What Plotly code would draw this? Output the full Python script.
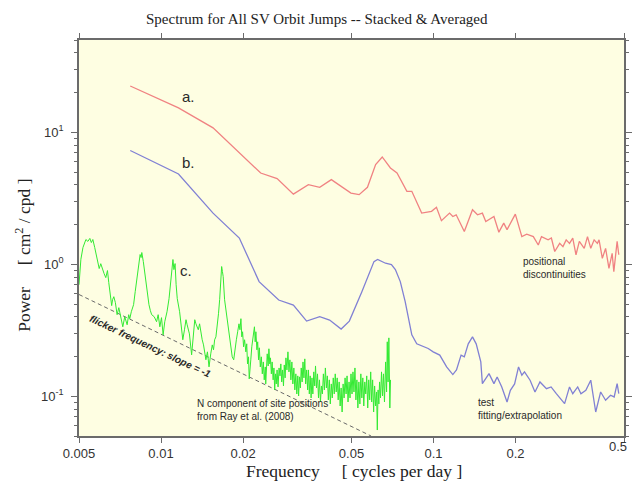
import math
import plotly.graph_objects as go

# ---------------- data ----------------
# a. positional discontinuities (red)
freq_a = [0.00771, 0.01159, 0.01552, 0.02321, 0.02667, 0.0306, 0.03473, 0.03823, 0.04217, 0.04977,
          0.05333, 0.05722, 0.06131, 0.06482, 0.06947, 0.07345, 0.07985, 0.08323, 0.09047, 0.09833,
          0.1025, 0.1069, 0.1145, 0.1177, 0.1211, 0.1297, 0.1390, 0.1450, 0.1511, 0.1555,
          0.1666, 0.1737, 0.1810, 0.1861, 0.1996, 0.2109, 0.2198, 0.2324, 0.2423, 0.2490,
          0.2633, 0.2707, 0.2785, 0.2904, 0.2985, 0.3068, 0.3155, 0.3243, 0.3333, 0.3428,
          0.3573, 0.3673, 0.3776, 0.3885, 0.3993, 0.4050, 0.4163, 0.4280, 0.4403, 0.4524,
          0.4588, 0.4718, 0.4785]
power_a = [22.4, 15.3, 10.8, 4.91, 4.46, 3.40, 4.01, 3.83, 4.38, 3.46,
           3.37, 3.83, 5.69, 6.50, 5.36, 4.91, 3.57, 3.57, 2.44, 2.52,
           2.70, 2.14, 2.44, 2.30, 2.37, 1.77, 2.59, 2.37, 2.44, 2.11,
           2.30, 1.75, 2.05, 1.83, 2.40, 1.62, 1.69, 1.62, 1.40, 1.62,
           1.53, 1.58, 1.25, 1.44, 1.36, 1.53, 1.44, 1.58, 1.18, 1.49,
           1.32, 1.62, 1.32, 1.53, 1.44, 1.53, 1.11, 1.32, 0.932, 1.21,
           0.880, 1.49, 1.18]

# b. test fitting/extrapolation (blue)
freq_b = [0.00771, 0.01159, 0.01552, 0.01938, 0.02290, 0.02704, 0.0306, 0.03422, 0.03823, 0.04156,
          0.04581, 0.04909, 0.05458, 0.06045, 0.06233, 0.06665, 0.07007, 0.07244, 0.07551, 0.07870,
          0.08323, 0.08678, 0.09559, 0.0997, 0.1054, 0.1117, 0.1177, 0.1214, 0.1262, 0.1297,
          0.1341, 0.1390, 0.1434, 0.1491, 0.1511, 0.1598, 0.1666, 0.1712, 0.1780, 0.1861,
          0.1914, 0.1984, 0.2051, 0.2109, 0.2157, 0.2261, 0.2357, 0.2458, 0.2597, 0.2700,
          0.2822, 0.3027, 0.3155, 0.3243, 0.3381, 0.3475, 0.3622, 0.3776, 0.3937, 0.4105,
          0.4280, 0.4462, 0.4601, 0.4718, 0.4785]
power_b = [7.27, 4.83, 2.44, 1.58, 0.739, 0.536, 0.491, 0.371, 0.4005, 0.378,
           0.323, 0.371, 0.620, 1.048, 1.086, 1.018, 0.995, 0.911, 0.739, 0.521,
           0.292, 0.2496, 0.230, 0.217, 0.205, 0.167, 0.146, 0.1585, 0.205, 0.199,
           0.2496, 0.282, 0.2496, 0.182, 0.1247, 0.1485, 0.1247, 0.140, 0.1177, 0.0905,
           0.111, 0.124, 0.167, 0.1444, 0.153, 0.1323, 0.1078, 0.1284, 0.1142, 0.1177,
           0.1046, 0.0879, 0.1177, 0.1046, 0.1177, 0.1046, 0.111, 0.1323, 0.076, 0.1078,
           0.0932, 0.1018, 0.0988, 0.1247, 0.1046]

# c. N component of site positions, Ray et al. (2008) (green)
freq_c = [0.00500, 0.00508, 0.00517, 0.00522, 0.00530, 0.00539, 0.00548, 0.00555, 0.00562, 0.00571,
          0.00578, 0.00585, 0.00593, 0.00601, 0.00609, 0.00618, 0.00627, 0.00636, 0.00643, 0.00652,
          0.00659, 0.00664, 0.00671, 0.00680, 0.00690, 0.00700, 0.00707, 0.00714, 0.00724, 0.00736,
          0.00743, 0.00751, 0.00761, 0.00768, 0.00778, 0.00793, 0.00804, 0.00816, 0.00826, 0.00838,
          0.00845, 0.00850, 0.00861, 0.00874, 0.00886, 0.00903, 0.00914, 0.00924, 0.00944, 0.00963,
          0.00976, 0.00990, 0.01004, 0.01018, 0.01032, 0.01052, 0.01070, 0.01085, 0.01096, 0.01106,
          0.01115, 0.01126, 0.01136, 0.01147, 0.01170, 0.01186, 0.01202, 0.01219, 0.01235, 0.01247,
          0.01271, 0.01295, 0.01317, 0.01330, 0.01343, 0.01370, 0.01385, 0.01401, 0.01416, 0.01432,
          0.01461, 0.01480, 0.01500, 0.01522, 0.01542, 0.01558, 0.01573, 0.01590, 0.01608, 0.01625,
          0.01641, 0.01655, 0.01669, 0.01680, 0.01691, 0.01711, 0.01725, 0.01740, 0.01758, 0.01773,
          0.01790, 0.01807, 0.01825, 0.01848, 0.01868, 0.01890, 0.01911, 0.01932,
          0.01948, 0.01964, 0.01979, 0.01992, 0.02009, 0.02026, 0.02048, 0.02063, 0.02077, 0.02094,
          0.02107, 0.02121, 0.02135, 0.02153, 0.02171, 0.02187, 0.02202, 0.02216, 0.02229, 0.02248,
          0.02263, 0.02280, 0.02295, 0.02314, 0.02334, 0.02353, 0.02373, 0.02392, 0.02413, 0.02422,
          0.02439, 0.02453, 0.02473, 0.02488, 0.02507, 0.02521, 0.02540, 0.02557, 0.02579, 0.02596,
          0.02613, 0.02631, 0.02648, 0.02666, 0.02688, 0.02711, 0.02733, 0.02752, 0.02772, 0.02793,
          0.02814, 0.02833, 0.02854, 0.02873, 0.02898, 0.02922, 0.02947, 0.02971, 0.02996, 0.03021,
          0.03046, 0.03072, 0.03098, 0.03124, 0.03150, 0.03176, 0.03198, 0.03222, 0.03246, 0.03270,
          0.03295, 0.03319, 0.03345, 0.03370, 0.03395, 0.03423, 0.03452, 0.03475, 0.03501, 0.03527,
          0.03554, 0.03580, 0.03607, 0.03635, 0.03665, 0.03689, 0.03720, 0.03751, 0.03783, 0.03814,
          0.03846, 0.03878, 0.03910, 0.03943, 0.03976, 0.04010, 0.04043, 0.04077, 0.04111, 0.04145,
          0.04180, 0.04215, 0.04250, 0.04286, 0.04322, 0.04358, 0.04394, 0.04431, 0.04468, 0.04505,
          0.04543, 0.04581, 0.04619, 0.04658, 0.04697, 0.04736, 0.04776, 0.04816, 0.04856, 0.04897,
          0.04938, 0.04979, 0.05021, 0.05063, 0.05105, 0.05148, 0.05190, 0.05233, 0.05277, 0.05321,
          0.05366, 0.05410, 0.05456, 0.05501, 0.05547, 0.05594, 0.05640, 0.05687, 0.05735, 0.05783,
          0.05831, 0.05880, 0.05929, 0.05978, 0.06028, 0.06079, 0.06130, 0.06181, 0.06218, 0.06259,
          0.06301, 0.06338, 0.06390, 0.06444, 0.06498, 0.06552, 0.06607, 0.06670, 0.06726, 0.06765,
          0.06810, 0.06856, 0.06913, 0.06953]
power_c = [0.70, 1.09, 1.34, 1.44, 1.54, 1.49, 1.57, 1.46, 1.54, 1.34,
           1.21, 1.09, 0.928, 1.01, 0.911, 0.850, 0.792, 0.896, 0.726, 0.599,
           0.486, 0.539, 0.568, 0.512, 0.415, 0.469, 0.430, 0.387, 0.336, 0.4005,
           0.367, 0.348, 0.415, 0.387, 0.437, 0.494, 0.620, 0.765, 0.928, 1.185,
           1.124, 1.227, 1.048, 0.806, 0.642, 0.494, 0.445, 0.415, 0.4005, 0.367,
           0.415, 0.336, 0.394, 0.292, 0.367, 0.437, 0.549, 0.713, 0.880, 1.086,
           0.911, 1.012, 0.701, 0.549, 0.437, 0.348, 0.268, 0.319, 0.380, 0.348,
           0.297, 0.206, 0.336, 0.380, 0.354, 0.319, 0.354, 0.297, 0.268, 0.245,
           0.189, 0.217, 0.167, 0.2096, 0.245, 0.2248, 0.268, 0.282, 0.336, 0.422,
           0.539, 0.739, 0.961, 0.880, 0.806, 0.539, 0.477, 0.4005, 0.354, 0.297,
           0.2586, 0.2248, 0.199, 0.189, 0.237, 0.268, 0.308, 0.354,
           0.319, 0.387, 0.282, 0.308, 0.237, 0.268, 0.217, 0.2497, 0.1758, 0.1989,
           0.1354, 0.1758, 0.1887, 0.237, 0.277, 0.319, 0.336, 0.2586, 0.308, 0.2249,
           0.2586, 0.1887, 0.2329, 0.1668, 0.1989, 0.1478, 0.182, 0.1331, 0.1668, 0.124,
           0.182, 0.2096, 0.1697, 0.2289, 0.1758, 0.1954, 0.1478, 0.182, 0.1331, 0.1639,
           0.1117, 0.1478, 0.124, 0.1583, 0.1177, 0.1639, 0.1427, 0.1758, 0.1284, 0.1583,
           0.1197, 0.1727, 0.1378, 0.1954, 0.1583, 0.217, 0.153, 0.1887, 0.1331, 0.182,
           0.124, 0.1639, 0.1117, 0.1478, 0.1041, 0.1427, 0.1005, 0.1402, 0.1156, 0.1639,
           0.1284, 0.182, 0.1378, 0.192, 0.124, 0.1583, 0.1117, 0.1583, 0.1041, 0.1427,
           0.0971, 0.1378, 0.1041, 0.153, 0.1197, 0.1697, 0.1156, 0.1478, 0.0971, 0.1331,
           0.0905, 0.1197, 0.1041, 0.1478, 0.1117, 0.1639, 0.1156, 0.1427, 0.0938, 0.1331,
           0.0874, 0.124, 0.0971, 0.1378, 0.1041, 0.1478, 0.1078, 0.1378, 0.0938, 0.1284,
           0.0844, 0.1156, 0.076, 0.124, 0.0971, 0.1378, 0.1041, 0.1427, 0.0905, 0.1284,
           0.0971, 0.1478, 0.1041, 0.153, 0.1078, 0.1639, 0.0938, 0.1331, 0.0815, 0.1284,
           0.0874, 0.1478, 0.0971, 0.1378, 0.0844, 0.1284, 0.1041, 0.1427, 0.0815, 0.1331,
           0.0938, 0.153, 0.0905, 0.1331, 0.076, 0.1197, 0.0844, 0.1078, 0.0555, 0.1117,
           0.0874, 0.1284, 0.0971, 0.153, 0.1005, 0.1478, 0.0905, 0.182, 0.1078, 0.2586,
           0.1284, 0.277, 0.0815, 0.1331]

# flicker-noise reference line (slope = -1)
flicker_freq = [0.005, 0.059]
flicker_power = [0.59, 0.05]

# axis ticks (the last x label is drawn as a right-aligned annotation so it is not clipped)
x_tick_vals = [0.005, 0.01, 0.02, 0.05, 0.1, 0.2, 0.5]
x_tick_text = ["0.005", "0.01", "0.02", "0.05", "0.1", "0.2", ""]
x_last_label = "0.5"
y_tick_vals = [0.1, 1, 10]
y_tick_text = ["10<sup>-1</sup>", "10<sup>0</sup>", "10<sup>1</sup>"]

# ---------------- figure ----------------
W, H = 638, 490
ML, MR, MT, MB = 79, 6, 40, 54
PW, PH = W - ML - MR, H - MT - MB


def px(xp):
    return (xp - ML) / PW


def py(yp):
    return (H - MB - yp) / PH


fig = go.Figure()
fig.add_trace(go.Scatter(x=flicker_freq, y=flicker_power, mode="lines",
                         line=dict(color="#6a6a6a", width=1, dash="4px,3px"), hoverinfo="skip"))
fig.add_trace(go.Scatter(x=freq_c, y=power_c, mode="lines",
                         line=dict(color="#33ea33", width=1)))
fig.add_trace(go.Scatter(x=freq_b, y=power_b, mode="lines",
                         line=dict(color="#8080d4", width=1.3)))
fig.add_trace(go.Scatter(x=freq_a, y=power_a, mode="lines",
                         line=dict(color="#f08282", width=1.3)))

minor_y = [m * 10 ** e for e in (-2, -1, 0, 1) for m in range(2, 10) if 0.05 <= m * 10 ** e <= 50]

sans = "Liberation Sans, Arial, sans-serif"
serif = "Liberation Serif, Times New Roman, serif"
tick_font = dict(family=sans, size=13, color="#333333")

axis_common = dict(showline=True, linecolor="#6b6b6b", linewidth=1.5, mirror="allticks",
                   ticks="outside", tickcolor="#6b6b6b", showgrid=False, zeroline=False,
                   tickfont=tick_font)

fig.update_xaxes(type="log", range=[math.log10(0.005), math.log10(0.5)],
                 tickmode="array", tickvals=x_tick_vals, ticktext=x_tick_text, ticklen=5,
                 **axis_common)
fig.update_yaxes(type="log", range=[math.log10(0.05), math.log10(50)],
                 tickmode="array", tickvals=y_tick_vals, ticktext=y_tick_text, ticklen=6,
                 ticklabelstandoff=5,
                 minor=dict(tickmode="array", tickvals=minor_y, ticks="outside", ticklen=3,
                            tickcolor="#6b6b6b", showgrid=False),
                 **axis_common)

txt = "#2a2a2a"
annotations = [
    dict(text=x_last_label, x=px(637), y=py(447), xanchor="right", font=tick_font),
    dict(text="Spectrum for All SV Orbit Jumps -- Stacked &amp; Averaged", x=px(320), y=py(19),
         font=dict(family=serif, size=15, color="#222")),
    dict(text="Frequency\u00a0\u00a0\u00a0\u00a0\u00a0[ cycles per day ]", x=px(358), y=py(471),
         font=dict(family=serif, size=17.5, color="#222")),
    dict(text="Power\u00a0\u00a0\u00a0\u00a0\u00a0[ cm<sup>2</sup> / cpd ]", x=px(22), y=py(255),
         textangle=-90, font=dict(family=serif, size=17.5, color="#222")),
    dict(text="a.", x=px(190), y=py(96), font=dict(family=sans, size=15, color=txt)),
    dict(text="b.", x=px(190), y=py(163), font=dict(family=sans, size=15, color=txt)),
    dict(text="c.", x=px(188), y=py(270), font=dict(family=sans, size=15, color=txt)),
    dict(text="positional<br>discontinuities", x=px(527), y=py(268), xanchor="left", align="left",
         font=dict(family=sans, size=10, color=txt)),
    dict(text="test<br>fitting/extrapolation", x=px(482), y=py(409), xanchor="left", align="left",
         font=dict(family=sans, size=10, color=txt)),
    dict(text="N component of site positions<br>from Ray et al. (2008)", x=px(197), y=py(410),
         xanchor="left", align="left", font=dict(family=sans, size=10, color=txt)),
    dict(text="<b><i>flicker frequency: slope = -1</i></b>", x=px(152), y=py(346), textangle=25.4,
         font=dict(family=sans, size=10, color=txt)),
]
for a in annotations:
    a.setdefault("xref", "paper")
    a.setdefault("yref", "paper")
    a.setdefault("showarrow", False)
    a.setdefault("xanchor", "center")
    a.setdefault("yanchor", "middle")

fig.update_layout(width=W, height=H, margin=dict(l=ML, r=MR, t=MT, b=MB),
                  plot_bgcolor="#fefee2", paper_bgcolor="white", showlegend=False,
                  annotations=annotations)

# remove the browser's default page margin so the 638x490 figure fills the window exactly
fig.write_html("out.html", config={"displayModeBar": False},
               post_script="document.body.style.margin='0';document.body.style.overflow='hidden';")
